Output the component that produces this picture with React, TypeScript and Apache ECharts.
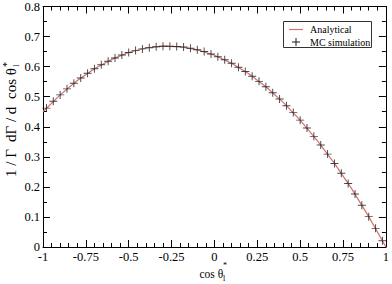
import React, { useEffect, useRef } from "react";
import * as echarts from "echarts";

const analyticX = [-1, -0.9, -0.8, -0.7, -0.6, -0.5, -0.4, -0.3, -0.2, -0.1, 0, 0.1, 0.2, 0.3, 0.4, 0.5, 0.6, 0.7, 0.8, 0.9, 1];
const analyticY = [0.45, 0.506, 0.554, 0.593, 0.624, 0.647, 0.662, 0.668, 0.666, 0.656, 0.638, 0.611, 0.576, 0.533, 0.482, 0.422, 0.354, 0.278, 0.194, 0.101, 0];

const mcX = [
  -0.98, -0.94, -0.9, -0.86, -0.82, -0.78, -0.74, -0.7, -0.66, -0.62,
  -0.58, -0.54, -0.5, -0.46, -0.42, -0.38, -0.34, -0.3, -0.26, -0.22,
  -0.18, -0.14, -0.1, -0.06, -0.02, 0.02, 0.06, 0.1, 0.14, 0.18,
  0.22, 0.26, 0.3, 0.34, 0.38, 0.42, 0.46, 0.5, 0.54, 0.58,
  0.62, 0.66, 0.7, 0.74, 0.78, 0.82, 0.86, 0.9, 0.94, 0.98,
];
const mcY = [
  0.462, 0.485, 0.506, 0.526, 0.545, 0.562, 0.578, 0.593, 0.606, 0.618,
  0.629, 0.639, 0.647, 0.654, 0.659, 0.663, 0.666, 0.668, 0.668, 0.667,
  0.665, 0.661, 0.656, 0.65, 0.642, 0.633, 0.623, 0.611, 0.598, 0.584,
  0.568, 0.551, 0.533, 0.513, 0.492, 0.47, 0.447, 0.422, 0.396, 0.368,
  0.339, 0.309, 0.278, 0.245, 0.211, 0.176, 0.139, 0.101, 0.062, 0.021,
];

const legendNames = ["Analytical", "MC simulation"];

const FONT = "Liberation Serif";
const PLUS = "path://M0,4.4H10V5.6H0Z M4.4,0H5.6V10H4.4Z";

const fmt = (v: number) => String(+(+v).toFixed(2));

const txt = (text: string, x: number, y: number, size: number) => ({
  type: "text",
  x,
  y,
  style: { text, fontFamily: FONT, fontSize: size, fill: "#000", align: "left", verticalAlign: "middle" },
});

export default function App() {
  const ref = useRef<HTMLDivElement>(null);
  useEffect(() => {
    if (!ref.current) return;
    const chart = echarts.init(ref.current, undefined, { renderer: "svg" });
    const baseX = {
      type: "value",
      min: -1,
      max: 1,
      interval: 0.25,
      axisLine: { show: true, onZero: false, lineStyle: { color: "#000", width: 1 } },
      axisTick: { show: true, inside: true, length: 7, lineStyle: { color: "#000" } },
      minorTick: { show: true, splitNumber: 5, length: 4, lineStyle: { color: "#000" } },
      splitLine: { show: false },
    };
    const baseY = {
      type: "value",
      min: 0,
      max: 0.8,
      interval: 0.1,
      axisLine: { show: true, onZero: false, lineStyle: { color: "#000", width: 1 } },
      axisTick: { show: true, inside: true, length: 7, lineStyle: { color: "#000" } },
      minorTick: { show: true, splitNumber: 2, length: 4, lineStyle: { color: "#000" } },
      splitLine: { show: false },
    };
    chart.setOption({
      animation: false,
      backgroundColor: "#fff",
      grid: { left: 43, right: 4, top: 5, bottom: 37 },
      xAxis: [
        {
          ...baseX,
          position: "bottom",
          axisLabel: { show: true, margin: 3, color: "#000", fontFamily: FONT, fontSize: 12.5, formatter: fmt, showMinLabel: true, showMaxLabel: true },
        },
        { ...baseX, position: "top", axisLabel: { show: false } },
      ],
      yAxis: [
        {
          ...baseY,
          position: "left",
          axisLabel: { show: true, margin: 3, color: "#000", fontFamily: FONT, fontSize: 12.5, formatter: fmt, showMinLabel: true, showMaxLabel: true },
        },
        { ...baseY, position: "right", axisLabel: { show: false } },
      ],
      series: [
        {
          name: legendNames[0],
          type: "line",
          xAxisIndex: 0,
          yAxisIndex: 0,
          data: analyticX.map((x, i) => [x, analyticY[i]]),
          showSymbol: false,
          symbol: "none",
          lineStyle: { color: "#d47070", width: 1.2 },
          z: 2,
        },
        {
          name: legendNames[1],
          type: "scatter",
          xAxisIndex: 0,
          yAxisIndex: 0,
          data: mcX.map((x, i) => [x, mcY[i]]),
          symbol: PLUS,
          symbolSize: 8,
          itemStyle: { color: "#1a1a1a" },
          z: 3,
        },
      ],
      graphic: [
        {
          type: "group",
          x: 11,
          y: 177,
          rotation: Math.PI / 2,
          children: [
            txt("1 / Γ", 0, 0, 15),
            txt("dΓ / d", 35, 0, 15),
            txt("cos θ", 78, 0, 15),
            txt("*", 110, -5, 10),
            txt("l", 110, 5, 9),
          ],
        },
        {
          type: "group",
          x: 199.5,
          y: 274,
          children: [
            txt("cos θ", 0, 0, 11.5),
            txt("*", 23.5, -9, 8),
            txt("l", 23.5, 4, 8),
          ],
        },
        {
          type: "group",
          x: 283,
          y: 21,
          children: [
            { type: "rect", shape: { x: 0.5, y: 0.5, width: 88, height: 26 }, style: { fill: "#fff", stroke: "#333", lineWidth: 1 } },
            { type: "line", shape: { x1: 6, y1: 8.5, x2: 20, y2: 8.5 }, style: { stroke: "#d47070", lineWidth: 1.2 } },
            { type: "line", shape: { x1: 9, y1: 21, x2: 17, y2: 21 }, style: { stroke: "#1a1a1a", lineWidth: 1 } },
            { type: "line", shape: { x1: 13, y1: 17, x2: 13, y2: 25 }, style: { stroke: "#1a1a1a", lineWidth: 1 } },
            txt(legendNames[0], 27, 8.5, 10),
            txt(legendNames[1], 27, 21, 10),
          ],
        },
      ],
    });
    return () => chart.dispose();
  }, []);
  return <div ref={ref} style={{ position: "fixed", left: 0, top: 0, width: 392, height: 284, background: "#fff" }} />;
}
